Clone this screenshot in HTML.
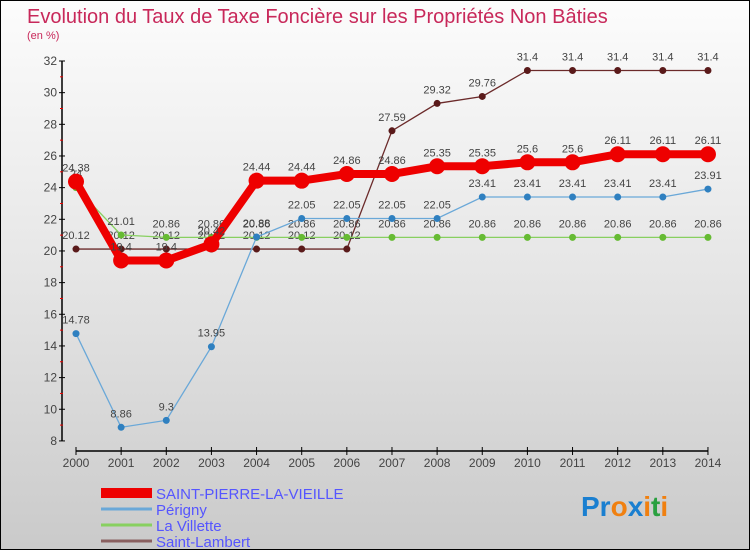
<!DOCTYPE html>
<html><head><meta charset="utf-8">
<style>
body{margin:0;width:750px;height:550px;overflow:hidden;font-family:"Liberation Sans",sans-serif;}
#wrap{position:relative;width:748px;height:548px;border:1px solid #000;background:linear-gradient(#fcfcfc,#e8e8e8 45%,#cacaca);}
</style></head>
<body>
<div id="wrap">
<svg id="chart" width="748" height="548">
<text x="26" y="22" font-size="20" fill="#c8285a">Evolution du Taux de Taxe Foncière sur les Propriétés Non Bâties</text>
<text x="26" y="38" font-size="11" fill="#c8285a">(en %)</text>
<g id="axes"></g>
<g id="series"></g>
<g id="legend"></g>
<text x="580" y="515" font-size="28" font-weight="bold" fill="#1a7fd0">Pr<tspan fill="#f08010">o</tspan><tspan fill="#1a7fd0">x</tspan><tspan fill="#f08010">i</tspan><tspan fill="#2aa040">t</tspan><tspan fill="#f08010">i</tspan></text>
</svg>
</div>
<script>
const years=[2000,2001,2002,2003,2004,2005,2006,2007,2008,2009,2010,2011,2012,2013,2014];
const yTicks=[8,10,12,14,16,18,20,22,24,26,28,30,32];
const splv=[24.38,19.4,19.4,20.42,24.44,24.44,24.86,24.86,25.35,25.35,25.6,25.6,26.11,26.11,26.11];
const perigny=[14.78,8.86,9.3,13.95,20.88,22.05,22.05,22.05,22.05,23.41,23.41,23.41,23.41,23.41,23.91];
const villette=[24,21.01,20.86,20.86,20.86,20.86,20.86,20.86,20.86,20.86,20.86,20.86,20.86,20.86,20.86];
const lambert=[20.12,20.12,20.12,20.12,20.12,20.12,20.12,27.59,29.32,29.76,31.4,31.4,31.4,31.4,31.4];
const names=["SAINT-PIERRE-LA-VIEILLE","Périgny","La Villette","Saint-Lambert"];
const NS="http://www.w3.org/2000/svg";
const X=i=>75+i*45.14;
const Y=v=>60+(32-v)*15.83;
function mk(t,a,p){const e=document.createElementNS(NS,t);for(const k in a)e.setAttribute(k,a[k]);p.appendChild(e);return e;}
const ax=document.getElementById('axes');
let e=mk('line',{x1:61,y1:Y(32),x2:61,y2:Y(8),stroke:'#000','stroke-width':1.5},ax);

e=mk('line',{x1:X(0),y1:450,x2:X(14),y2:450,stroke:'#000','stroke-width':1.5},ax);

yTicks.forEach(v=>{
 mk('line',{x1:58,x2:64,y1:Y(v),y2:Y(v),stroke:'#000'},ax);
 if(v<32)mk('line',{x1:59,x2:62,y1:Y(v+1),y2:Y(v+1),stroke:'#e00'},ax);
 const t=mk('text',{x:56,y:Y(v)+4,'font-size':12,'text-anchor':'end',fill:'#444'},ax);t.textContent=v;
 
});
years.forEach((y,i)=>{
 mk('line',{x1:X(i),x2:X(i),y1:446,y2:454,stroke:'#000'},ax);
 const t=mk('text',{x:X(i),y:466,'font-size':12,'text-anchor':'middle',fill:'#444'},ax);t.textContent=y;
 
});
const sg=document.getElementById('series');
const defs=[[lambert,'#6b2a2a','#5a1a1a',1.3,3.5,'saint-lambert'],[villette,'#88d060','#66bb33',1.3,3.5,'la-villette'],[perigny,'#6aa8d8','#2f80c0',1.3,3.5,'perigny'],[splv,'#ee0000','#ee0000',8,8,'saint-pierre-la-vieille']];
defs.forEach(([d,c,dc,w,r,n])=>{
 const p=mk('polyline',{points:d.map((v,i)=>X(i)+','+Y(v)).join(' '),fill:'none',stroke:c,'stroke-width':w},sg);
 
 d.forEach((v,i)=>{
  const pt=mk('circle',{cx:X(i),cy:Y(v),r:r,fill:dc},sg);
  
  const t=mk('text',{x:X(i),y:Y(v)-10,'font-size':11,'text-anchor':'middle',fill:'#444'},sg);t.textContent=v;
  
 });
});
const lg=document.getElementById('legend');
const lc=['#ee0000','#6aa8d8','#88d060','#8a6060'],lw=[10,3,3,3];
names.forEach((n,i)=>{
 const y=492+i*16;
 const l=mk('line',{x1:100,x2:151,y1:y,y2:y,stroke:lc[i],'stroke-width':lw[i]},lg);
 
 const t=mk('text',{x:155,y:y+6,'font-size':15,fill:'#5555ff'},lg);t.textContent=n;
 
});
</script>
</body></html>
